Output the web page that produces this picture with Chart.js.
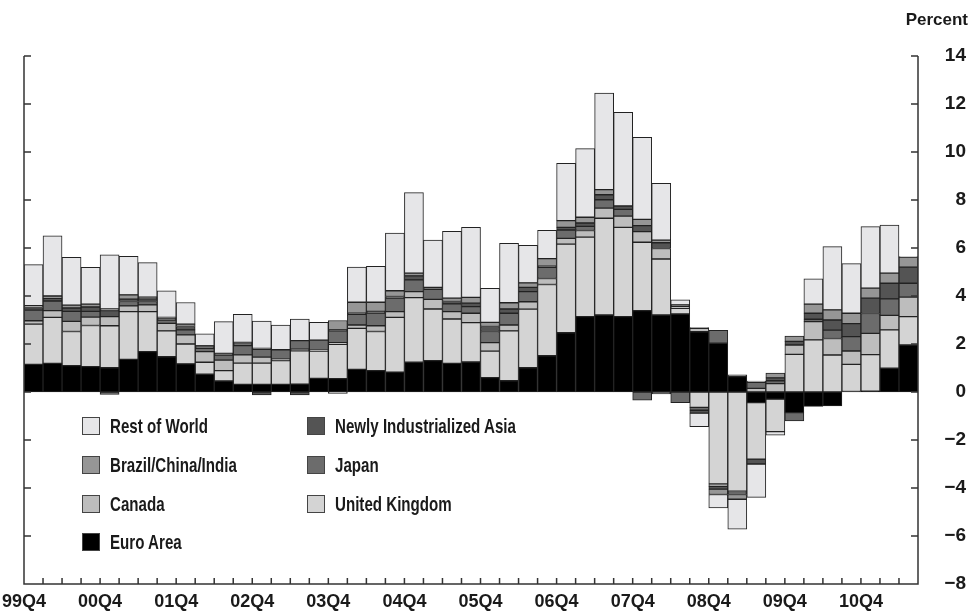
<!DOCTYPE html>
<html>
<head>
<meta charset="utf-8">
<script src="https://cdn.jsdelivr.net/npm/chart.js@4.4.1/dist/chart.umd.min.js"></script>
<style>
  body { margin: 0; background: #fff; }
  #wrap { position: relative; width: 975px; height: 614px; }
  #chart { position: absolute; left: 0; top: 0; }
  .unit { position: absolute; right: 7px; top: 10px; font: bold 17px "Liberation Sans", sans-serif; color: #1a1a1a; }
  .box { position: absolute; width: 16px; height: 16px; border: 1px solid #444; }
  .txt { position: absolute; font: bold 21px "Liberation Sans", sans-serif; color: #1a1a1a; white-space: nowrap;
         line-height: 22px; transform: scaleX(0.72); transform-origin: 0 0; }
</style>
</head>
<body>
<div id="wrap">
  <canvas id="chart" width="975" height="614"></canvas>
  <div class="unit">Percent</div>
  <div id="legend"></div>
</div>
<script>
// quarters, 99Q4 .. 11Q2
const quarters = ['99Q4','00Q1','00Q2','00Q3','00Q4','01Q1','01Q2','01Q3','01Q4','02Q1','02Q2','02Q3',
  '02Q4','03Q1','03Q2','03Q3','03Q4','04Q1','04Q2','04Q3','04Q4','05Q1','05Q2','05Q3',
  '05Q4','06Q1','06Q2','06Q3','06Q4','07Q1','07Q2','07Q3','07Q4','08Q1','08Q2','08Q3',
  '08Q4','09Q1','09Q2','09Q3','09Q4','10Q1','10Q2','10Q3','10Q4','11Q1','11Q2'];

// contributions, percentage points
const euroArea = [1.15,1.19,1.10,1.06,1.01,1.36,1.68,1.47,1.17,0.74,0.46,0.32,
  0.32,0.32,0.33,0.57,0.56,0.94,0.89,0.83,1.24,1.31,1.19,1.25,
  0.60,0.47,1.01,1.51,2.47,3.14,3.21,3.14,3.39,3.21,3.25,2.51,
  2.03,0.64,-0.44,-0.30,-0.86,-0.60,-0.58,0.02,0.03,0.99,1.96];
const unitedKingdom = [1.68,1.92,1.42,1.71,1.75,1.99,1.67,1.08,0.83,0.50,0.43,0.88,
  0.88,0.99,1.39,1.14,1.43,1.71,1.63,2.28,2.69,2.15,1.85,1.64,
  1.10,2.08,2.44,2.97,3.69,3.31,4.03,3.72,2.85,2.33,0.24,-0.64,
  -3.83,-4.13,-2.36,-1.35,1.57,2.17,1.54,1.13,1.53,1.60,1.18];
const canada = [0.14,0.28,0.42,0.35,0.38,0.24,0.28,0.31,0.38,0.44,0.44,0.35,
  0.25,0.06,0.06,0.03,0.07,0.14,0.24,0.24,0.25,0.40,0.31,0.39,
  0.36,0.24,0.31,0.25,0.24,0.28,0.42,0.47,0.44,0.44,0.07,0.14,
  -0.10,-0.07,0.15,0.35,0.39,0.76,0.69,0.56,0.88,0.60,0.81];
const japan = [0.44,0.40,0.42,0.24,-0.10,0.18,0.14,0.14,0.21,0.14,0.21,0.38,
  0.33,0.39,0.36,0.42,0.49,0.45,0.53,0.56,0.49,0.42,0.32,0.28,
  0.46,0.49,0.42,0.46,0.35,0.17,0.35,0.28,-0.34,-0.08,-0.44,-0.12,
  0.54,0.08,0.25,0.12,-0.35,0.10,0.35,0.60,0.83,0.69,0.58];
const newlyIndAsia = [0.11,0.10,0.14,0.18,0.25,0.10,0.11,0.07,0.14,0.07,0.07,0.08,
  -0.12,0.00,-0.12,0.00,0.04,0.04,0.07,0.07,0.17,0.08,0.10,0.14,
  0.21,0.18,0.18,0.05,0.11,0.14,0.21,0.14,0.25,0.24,0.07,-0.12,
  -0.12,-0.07,-0.20,0.12,0.15,0.25,0.42,0.54,0.64,0.65,0.67];
const brazilChinaIndia = [0.08,0.11,0.12,0.12,0.07,0.18,0.07,0.04,0.10,0.04,0.00,0.06,
  0.04,0.00,0.00,0.00,0.39,0.46,0.38,0.24,0.11,0.00,0.14,0.24,
  0.17,0.26,0.19,0.32,0.28,0.24,0.21,0.00,0.26,0.11,0.00,0.03,
  -0.22,-0.20,0.06,0.20,0.22,0.38,0.42,0.43,0.42,0.42,0.42];
const restOfWorld = [1.71,2.51,1.99,1.53,2.26,1.60,1.44,1.11,0.90,0.49,1.32,1.17,
  1.14,1.03,0.90,0.74,-0.06,1.46,1.50,2.40,3.36,1.97,2.78,2.92,
  1.42,2.47,1.56,1.18,2.39,2.86,4.03,3.90,3.42,2.36,0.21,-0.56,
  -0.56,-1.25,-1.39,-0.15,0.00,1.06,2.64,2.07,2.56,2.01,0.02];

const yMin = -8, yMax = 14, yStep = 2;

// stacked from the zero line outwards
const series = [
  { name: 'Euro Area', data: euroArea, color: '#000000' },
  { name: 'United Kingdom', data: unitedKingdom, color: '#d4d4d4' },
  { name: 'Canada', data: canada, color: '#bdbdbd' },
  { name: 'Japan', data: japan, color: '#6c6c6c' },
  { name: 'Newly Industrialized Asia', data: newlyIndAsia, color: '#545454' },
  { name: 'Brazil/China/India', data: brazilChinaIndia, color: '#969696' },
  { name: 'Rest of World', data: restOfWorld, color: '#e6e6e8' }
];

// legend, two columns like the original (x of box, y of box)
const legendItems = [
  ['Rest of World', 82, 417], ['Newly Industrialized Asia', 307, 417],
  ['Brazil/China/India', 82, 456], ['Japan', 307, 456],
  ['Canada', 82, 495], ['United Kingdom', 307, 495],
  ['Euro Area', 82, 533]
];
const legend = document.getElementById('legend');
legendItems.forEach(function (it) {
  const s = series.find(function (d) { return d.name === it[0]; });
  const box = document.createElement('div');
  box.className = 'box';
  box.style.left = it[1] + 'px';
  box.style.top = it[2] + 'px';
  box.style.background = s.color;
  const txt = document.createElement('div');
  txt.className = 'txt';
  txt.style.left = (it[1] + 28) + 'px';
  txt.style.top = (it[2] - 2) + 'px';
  txt.textContent = it[0];
  legend.appendChild(box);
  legend.appendChild(txt);
});

// axis frame with inward ticks
const axisFrame = {
  id: 'axisFrame',
  afterDatasetsDraw(chart) {
    const { ctx, chartArea: a, scales: { x, y } } = chart;
    ctx.save();
    ctx.strokeStyle = '#333';
    ctx.lineWidth = 1.5;
    ctx.beginPath();
    ctx.moveTo(a.left, a.top);
    ctx.lineTo(a.left, a.bottom);
    ctx.lineTo(a.right, a.bottom);
    ctx.lineTo(a.right, a.top);
    for (let v = yMin + yStep; v <= yMax; v += yStep) {
      const py = y.getPixelForValue(v);
      ctx.moveTo(a.left, py); ctx.lineTo(a.left + 7, py);
      ctx.moveTo(a.right, py); ctx.lineTo(a.right - 7, py);
    }
    for (let i = 1; i < quarters.length; i++) {
      const px = (x.getPixelForValue(i - 1) + x.getPixelForValue(i)) / 2;
      ctx.moveTo(px, a.bottom); ctx.lineTo(px, a.bottom - 6);
    }
    ctx.stroke();
    ctx.restore();
  }
};

new Chart(document.getElementById('chart'), {
  type: 'bar',
  data: {
    labels: quarters,
    datasets: series.map(function (s) {
      return {
        label: s.name,
        data: s.data,
        backgroundColor: s.color,
        borderColor: '#222',
        borderWidth: 1,
        borderSkipped: false,
        barPercentage: 1,
        categoryPercentage: 1
      };
    })
  },
  options: {
    responsive: false,
    devicePixelRatio: 1,
    animation: false,
    layout: { padding: { left: 24, top: 56, right: 9, bottom: 0 } },
    plugins: { legend: { display: false }, tooltip: { enabled: false } },
    scales: {
      x: {
        stacked: true,
        grid: { display: false, drawTicks: false },
        border: { display: false },
        afterFit: function (s) { s.height = 30; },
        ticks: {
          autoSkip: false,
          maxRotation: 0,
          padding: 7,
          labelOffset: -9.5,
          color: '#1a1a1a',
          font: { family: '"Liberation Sans", sans-serif', size: 18, weight: 'bold' },
          callback: function (v, i) { return quarters[i].endsWith('Q4') ? quarters[i] : ''; }
        }
      },
      y: {
        stacked: true,
        position: 'right',
        min: yMin,
        max: yMax,
        grid: { display: false, drawTicks: false },
        border: { display: false },
        afterFit: function (s) { s.width = 48; },
        ticks: {
          stepSize: yStep,
          crossAlign: 'far',
          padding: 15,
          color: '#1a1a1a',
          font: { family: '"Liberation Sans", sans-serif', size: 19, weight: 'bold' },
          callback: function (v) { return v < 0 ? '\u2212' + Math.abs(v) : String(v); }
        }
      }
    }
  },
  plugins: [axisFrame]
});
</script>
</body>
</html>
